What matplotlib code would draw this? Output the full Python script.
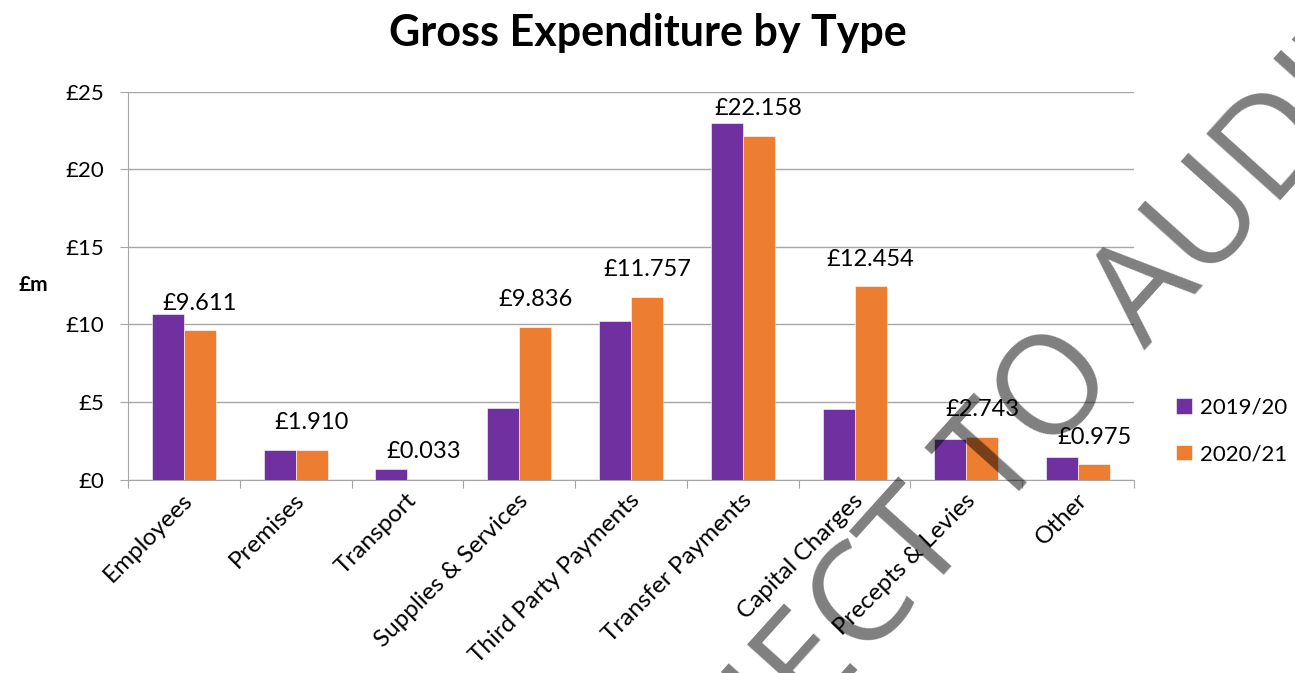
import numpy as np
import matplotlib
matplotlib.use("Agg")
import matplotlib.pyplot as plt
from matplotlib.transforms import offset_copy

plt.rcParams['font.family'] = ['Lato', 'DejaVu Sans']

# data (£m)
categories = ["Employees", "Premises", "Transport", "Supplies & Services",
              "Third Party Payments", "Transfer Payments", "Capital Charges",
              "Precepts & Levies", "Other"]
spend_1920 = [10.65, 1.92, 0.68, 4.63, 10.22, 23.00, 4.55, 2.59, 1.47]
spend_2021 = [9.611, 1.910, 0.033, 9.836, 11.757, 22.158, 12.454, 2.743, 0.975]
series_names = ["2019/20", "2020/21"]
y_ticks = [0, 5, 10, 15, 20, 25]

purple = "#7030A0"
orange = "#ED7D31"
grid_col = "#A6A6A6"

fig = plt.figure(figsize=(12.95, 6.73), dpi=100)
ax = fig.add_axes([128 / 1295, 1 - 479.5 / 673, (1134 - 128) / 1295, (479.5 - 91.7) / 673])

x = np.arange(len(categories))
w = 0.286
b1 = ax.bar(x - w / 2, spend_1920, w, color=purple, edgecolor="white", lw=0.4,
            label=series_names[0], zorder=3)
b2 = ax.bar(x + w / 2, spend_2021, w, color=orange, edgecolor="white", lw=0.4,
            label=series_names[1], zorder=3)

# labels on the 2020/21 bars only
for xi, v in zip(x, spend_2021):
    ax.annotate(f"£{v:.3f}", (xi + w / 2, v), xytext=(0, 12), textcoords="offset points",
                ha="center", va="bottom", fontsize=17, zorder=4)

ax.set_xlim(-0.5, len(categories) - 0.5)
ax.set_ylim(0, 25)
ax.set_yticks(y_ticks)
ax.set_yticklabels([f"£{t}" for t in y_ticks], fontsize=16)
ax.yaxis.grid(True, color=grid_col, lw=1)
ax.set_axisbelow(True)

# category ticks at boundaries, labels at centres
ax.set_xticks(np.arange(len(categories) + 1) - 0.5)
ax.set_xticklabels([])
ax.set_xticks(x, minor=True)
lbl_trans = offset_copy(ax.get_xaxis_transform(), fig=fig, x=-2, y=-10, units="dots")
for xi, name in zip(x, categories):
    ax.text(xi, 0, name, transform=lbl_trans, rotation=45, ha="right", va="top",
            rotation_mode="anchor", fontsize=17.5)
ax.tick_params(axis="x", which="major", length=6, color=grid_col)
ax.tick_params(axis="x", which="minor", length=0)
ax.tick_params(axis="y", length=6, color=grid_col, pad=11)

for s in ["top", "right"]:
    ax.spines[s].set_visible(False)
for s in ["left", "bottom"]:
    ax.spines[s].set_color(grid_col)

fig.text(33 / 1295, 1 - 285 / 673, "£m", fontsize=15, fontweight="bold", ha="center", va="center")
fig.text(648 / 1295, 1 - 33 / 673, "Gross Expenditure by Type", fontsize=31,
         fontweight="bold", ha="center", va="center")

fig.legend(handles=[b1, b2], loc="center left", bbox_to_anchor=(1176 / 1295, 1 - 431 / 673),
           frameon=False, fontsize=16, handlelength=0.7, handleheight=0.7,
           handletextpad=0.4, labelspacing=1.2, borderpad=0, borderaxespad=0)

# watermark (runs off the page, as in the original)
fig.text(985 / 1295, 1 - 474 / 673, "SUBJECT TO AUDIT", fontsize=100,
         family=["Open Sans", "DejaVu Sans"], fontweight="normal",
         color="black", alpha=0.5, rotation=48, ha="center", va="center",
         rotation_mode="anchor", zorder=10)

fig.savefig("out.png", dpi=100)
